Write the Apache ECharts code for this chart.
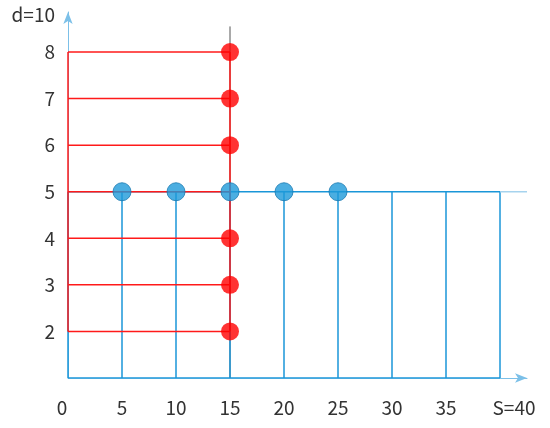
<!DOCTYPE html>
<html>
<head>
<meta charset="utf-8">
<script src="https://cdn.jsdelivr.net/npm/echarts@6/dist/echarts.min.js"></script>
<style>
  html, body { margin: 0; padding: 0; background: #fff; }
  #chart { width: 550px; height: 428px; }
</style>
</head>
<body>
<div id="chart"></div>
<script>
// 数据
const redLevels = [2, 3, 4, 5, 6, 7, 8];        // 红色横线的 d 值
const redDotsY = [2, 3, 4, 6, 7, 8];            // x=15 上的红点
const blueStops = [0, 5, 10, 15, 20, 25, 30, 35, 40]; // 蓝色竖线
const blueDotsX = [5, 10, 15, 20, 25];          // y=5 上的蓝点
const redX = [0, 15];                           // 红色竖线
const blueY = [1, 5];                           // 蓝色横线
const xTickValues = [0, 5, 10, 15, 20, 25, 30, 35, 40];
const xTickLabels = ["0", "5", "10", "15", "20", "25", "30", "35", "S=40"];
const yTickValues = [2, 3, 4, 5, 6, 7, 8, 8.79];
const yTickLabels = ["2", "3", "4", "5", "6", "7", "8", "d=10"];

const X_MAX = 42.5;
const Y_MIN = 1;
const Y_MAX = 8.86;
const RED = "#ff1a1a";
const BLUE = "#1a96d8";
const FONT = "'Noto Sans CJK SC', 'Noto Sans', sans-serif";

const seg = (a, b, color, width, z) => ({
  type: "line",
  data: [a, b],
  symbol: "none",
  silent: true,
  z: z || 2,
  lineStyle: { color, width: width || 1.5 }
});

const series = [];
// 灰色细线 (x=15 顶部)
series.push(seg([15, Y_MIN], [15, 8.55], "#555", 1, 1));
// 蓝色部分
blueStops.forEach(x => series.push(seg([x, 1], [x, 5], BLUE, 1.5, 2)));
blueY.forEach(y => series.push(seg([0, y], [40, y], BLUE, 1.5, 2)));
series.push(seg([40, 5], [X_MAX, 5], "#a6d3ee", 1.5, 2));
// 红色部分
redLevels.forEach(y => series.push(seg([0, y], [15, y], RED, 1.5, 3)));
redX.forEach(x => series.push(seg([x, 2], [x, 8], RED, 1.5, 3)));

series.push({
  type: "scatter",
  data: redDotsY.map(y => [15, y]),
  symbolSize: 18,
  z: 5,
  itemStyle: { color: "#ff0000" }
});
series.push({
  type: "scatter",
  data: blueDotsX.map(x => [x, 5]),
  symbolSize: 18,
  z: 6,
  itemStyle: { color: "#1e9ad9", borderColor: "#1578b0", borderWidth: 1 }
});

const chart = echarts.init(document.getElementById("chart"));
chart.setOption({
  animation: false,
  grid: { left: 68, right: 23, top: 12, bottom: 50 },
  xAxis: {
    type: "value",
    min: 0,
    max: X_MAX,
    splitLine: { show: false },
    axisTick: { show: false },
    axisLine: {
      onZero: false,
      symbol: ["none", "arrow"],
      symbolSize: [7, 12],
      lineStyle: { color: "#7cc0e8", width: 1 }
    },
    axisLabel: {
      customValues: xTickValues,
      formatter: v => {
        const lab = xTickLabels[xTickValues.indexOf(v)];
        if (lab === "S=40") return "{s|" + lab + "}";
        if (v === 0) return "{z|" + lab + "}";
        return lab;
      },
      margin: 20,
      color: "#333",
      fontSize: 19,
      fontFamily: FONT,
      rich: {
        s: { fontSize: 19, fontFamily: FONT, color: "#333", padding: [0, 0, 0, 28] },
        z: { fontSize: 19, fontFamily: FONT, color: "#333", padding: [0, 12, 0, 0] }
      }
    }
  },
  yAxis: {
    type: "value",
    min: Y_MIN,
    max: Y_MAX,
    splitLine: { show: false },
    axisTick: { show: false },
    axisLine: {
      show: true,
      onZero: false,
      symbol: ["none", "arrow"],
      symbolSize: [7, 12],
      lineStyle: { color: "#7cc0e8", width: 1 }
    },
    axisLabel: {
      customValues: yTickValues,
      formatter: v => yTickLabels[yTickValues.indexOf(v)],
      margin: 13,
      color: "#333",
      fontSize: 19,
      fontFamily: FONT
    }
  },
  series
});
</script>
</body>
</html>
